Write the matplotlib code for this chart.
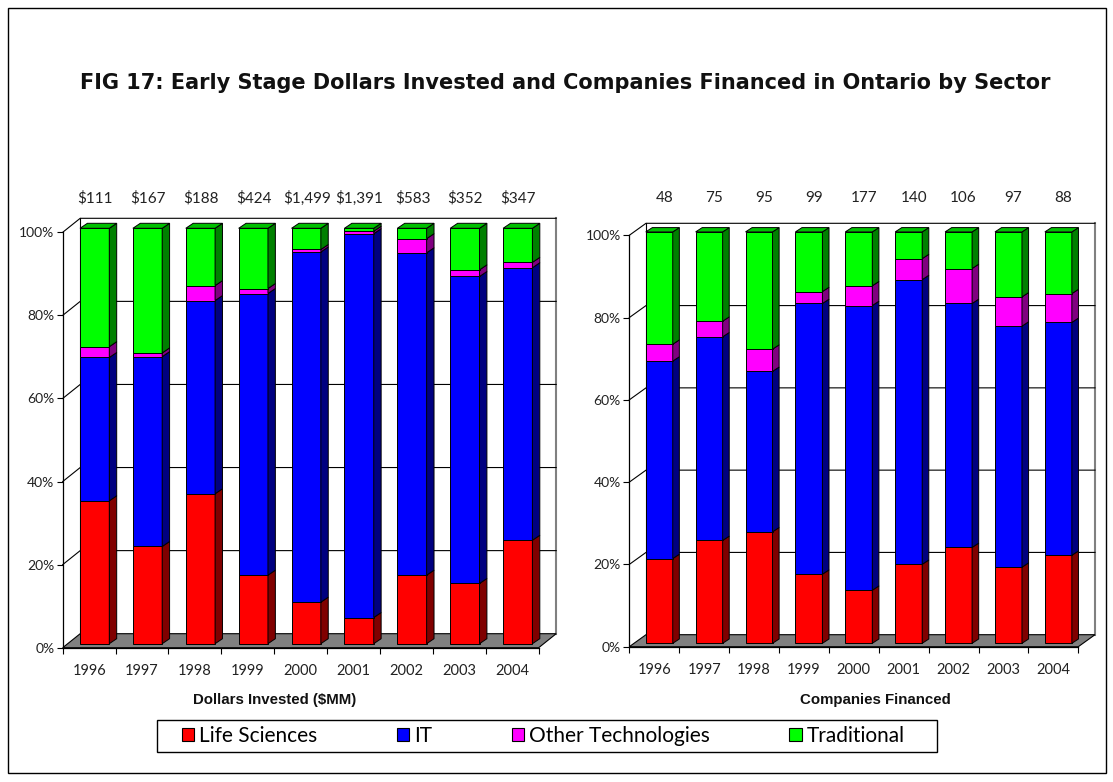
import matplotlib
matplotlib.use("Agg")
import matplotlib.pyplot as plt
import matplotlib.transforms as mtransforms
from matplotlib.patches import Polygon, Rectangle, Patch
import numpy as np

# ---- data (percent share of each year's total) ----
years = ["1996", "1997", "1998", "1999", "2000", "2001", "2002", "2003", "2004"]
sectors = ["Life Sciences", "IT", "Other Technologies", "Traditional"]

dollar_totals = ["$111", "$167", "$188", "$424", "$1,499", "$1,391", "$583", "$352", "$347"]
company_totals = ["48", "75", "95", "99", "177", "140", "106", "97", "88"]

dollars_life = [34.4, 23.4, 36.1, 16.5, 10.0, 6.3, 16.5, 14.5, 24.9]
dollars_it = [34.5, 45.7, 46.5, 67.8, 84.3, 92.4, 77.6, 73.9, 65.6]
dollars_other = [2.6, 0.9, 3.6, 1.2, 0.6, 0.6, 3.4, 1.6, 1.3]
dollars_trad = [28.5, 30.0, 13.8, 14.5, 5.1, 0.7, 2.5, 10.0, 8.2]

companies_life = [20.6, 25.0, 27.1, 16.8, 12.9, 19.2, 23.3, 18.5, 21.4]
companies_it = [48.0, 49.5, 39.0, 65.8, 69.2, 69.2, 59.3, 58.6, 56.6]
companies_other = [4.1, 3.8, 5.4, 2.9, 4.8, 5.1, 8.5, 7.1, 7.0]
companies_trad = [27.3, 21.7, 28.5, 14.5, 13.1, 6.5, 8.9, 15.8, 15.0]

front_colors = ["#FF0000", "#0000FF", "#FF00FF", "#00FF00"]
side_colors = ["#800000", "#000080", "#800080", "#008000"]
top_colors = ["#C00000", "#0000C0", "#C000C0", "#00C000"]

W, H = 1113, 782
NARROW = ["Lato", "DejaVu Sans"]

fig = plt.figure(figsize=(W / 100, H / 100), dpi=100)


def add_axes_px(x0, x1, y_bot, y_top):
    ax = fig.add_axes([x0 / W, 1 - y_bot / H, (x1 - x0) / W, (y_bot - y_top) / H])
    return ax, x1 - x0, y_bot - y_top


def draw_panel(ax, axw, axh, shares, totals, wall, bar_off, bar_depth, bar_w,
               label_dx, label_dy):
    """Fake Excel-style 3D stacked percent columns."""
    n = len(years)
    sx, sy = n / axw, 100 / axh
    wdx, wdy = wall[0] * sx, wall[1] * sy
    odx, ody = bar_off[0] * sx, bar_off[1] * sy
    ddx, ddy = bar_depth[0] * sx, bar_depth[1] * sy
    bw = bar_w * sx

    ax.set_xlim(0, n)
    ax.set_ylim(0, 100)
    ax.patch.set_visible(False)
    for name, sp in ax.spines.items():
        sp.set_visible(name in ("left", "bottom"))
        sp.set_linewidth(0.9)
        sp.set_zorder(2)

    # back wall, right edge, floor
    ax.add_patch(Polygon([(wdx, wdy), (n + wdx, wdy), (n + wdx, 100 + wdy), (wdx, 100 + wdy)],
                         closed=True, fc="white", ec="none", clip_on=False, zorder=0))
    ax.plot([n + wdx, n + wdx], [wdy, 100 + wdy], color="#808080", lw=1.5,
            clip_on=False, zorder=1)
    ax.plot([wdx, wdx], [wdy, 100 + wdy], color="black", lw=0.8, clip_on=False, zorder=1)
    ax.add_patch(Polygon([(0, 0), (n, 0), (n + wdx, wdy), (wdx, wdy)], closed=True,
                         fc="#808080", ec="black", lw=0.8, clip_on=False, zorder=1))
    for v in range(20, 101, 20):
        ax.plot([0, wdx, n + wdx], [v, v + wdy, v + wdy], color="black", lw=0.8,
                clip_on=False, zorder=1)

    # columns
    x = np.arange(n) + 0.5 - bw / 2 + odx
    bottom = np.zeros(n)
    for k, vals in enumerate(shares):
        vals = np.asarray(vals)
        bars = ax.bar(x, vals, width=bw, bottom=bottom + ody, align="edge",
                      color=front_colors[k], edgecolor="black", linewidth=0.7, zorder=3)
        for b in bars:
            b.set_clip_on(False)
        for i in range(n):
            b, t = bottom[i] + ody, bottom[i] + vals[i] + ody
            xr = x[i] + bw
            ax.add_patch(Polygon([(xr, b), (xr + ddx, b + ddy), (xr + ddx, t + ddy), (xr, t)],
                                 closed=True, fc=side_colors[k], ec="black", lw=0.7,
                                 zorder=3, clip_on=False))
            if k == len(shares) - 1:
                ax.add_patch(Polygon([(x[i], t), (xr, t), (xr + ddx, t + ddy), (x[i] + ddx, t + ddy)],
                                     closed=True, fc=top_colors[k], ec="black", lw=0.7,
                                     zorder=3, clip_on=False))
        bottom += vals

    # totals above columns
    tr = mtransforms.offset_copy(ax.transData, fig=fig, x=label_dx, y=label_dy, units="dots")
    for i, s in enumerate(totals):
        ax.text(i + 0.5, 100, s, transform=tr, ha="center", va="center",
                fontsize=11, family=NARROW, color="#222222")

    # ticks
    ax.set_yticks(range(0, 101, 20))
    ax.set_yticklabels([f"{v}%" for v in range(0, 101, 20)], family=NARROW)
    ax.tick_params(axis="y", length=4, width=0.8, pad=2, labelsize=10, labelcolor="#222222")
    ax.set_xticks(range(n + 1))
    ax.set_xticklabels([])
    ax.set_xticks(np.arange(n) + 0.5, minor=True)
    ax.set_xticklabels(years, minor=True, family=NARROW)
    ax.tick_params(axis="x", which="major", length=4.5, width=0.8)
    ax.tick_params(axis="x", which="minor", length=0, pad=11.5, labelsize=10.5,
                   labelcolor="#222222")


# outer frame
fig.patches.append(Rectangle((8 / W, 1 - 773 / H), 1098 / W, 765 / H, transform=fig.transFigure,
                             fill=False, ec="black", lw=1))

fig.text(565 / W, 1 - 83 / H,
         "FIG 17: Early Stage Dollars Invested and Companies Financed in Ontario by Sector",
         ha="center", va="center", fontsize=15, weight="bold", family="DejaVu Sans",
         color="#111111")

ax1, w1, h1 = add_axes_px(62.7, 538.7, 647.7, 232.3)
draw_panel(ax1, w1, h1, [dollars_life, dollars_it, dollars_other, dollars_trad],
           dollar_totals, wall=(17.5, 14), bar_off=(5.5, 4), bar_depth=(7.4, 5),
           bar_w=29.3, label_dx=6, label_dy=34)

ax2, w2, h2 = add_axes_px(629.3, 1078.3, 646.7, 235.3)
draw_panel(ax2, w2, h2, [companies_life, companies_it, companies_other, companies_trad],
           company_totals, wall=(16.7, 12), bar_off=(5, 3.4), bar_depth=(6.6, 4.3),
           bar_w=27, label_dx=10, label_dy=37)

fig.text(275 / W, 1 - 700 / H, "Dollars Invested ($MM)", ha="center", va="center",
         fontsize=10.8, weight="bold", family="Liberation Sans", color="#111111")
fig.text(875 / W, 1 - 700 / H, "Companies Financed", ha="center", va="center",
         fontsize=10.8, weight="bold", family="Liberation Sans", color="#111111")

# legend box
fig.patches.append(Rectangle((157 / W, 1 - 752 / H), 780 / W, 32 / H, transform=fig.transFigure,
                             fill=False, ec="black", lw=1))
handles = [Patch(facecolor=c, edgecolor="black", linewidth=0.8) for c in front_colors]
fig.legend(handles, sectors, loc="center", bbox_to_anchor=(543.5 / W, 1 - 736 / H),
           ncol=4, frameon=False, prop={"family": NARROW, "size": 15},
           handlelength=0.6, handleheight=0.6, handletextpad=0.25, columnspacing=3.8)

fig.savefig("out.png", dpi=100)
